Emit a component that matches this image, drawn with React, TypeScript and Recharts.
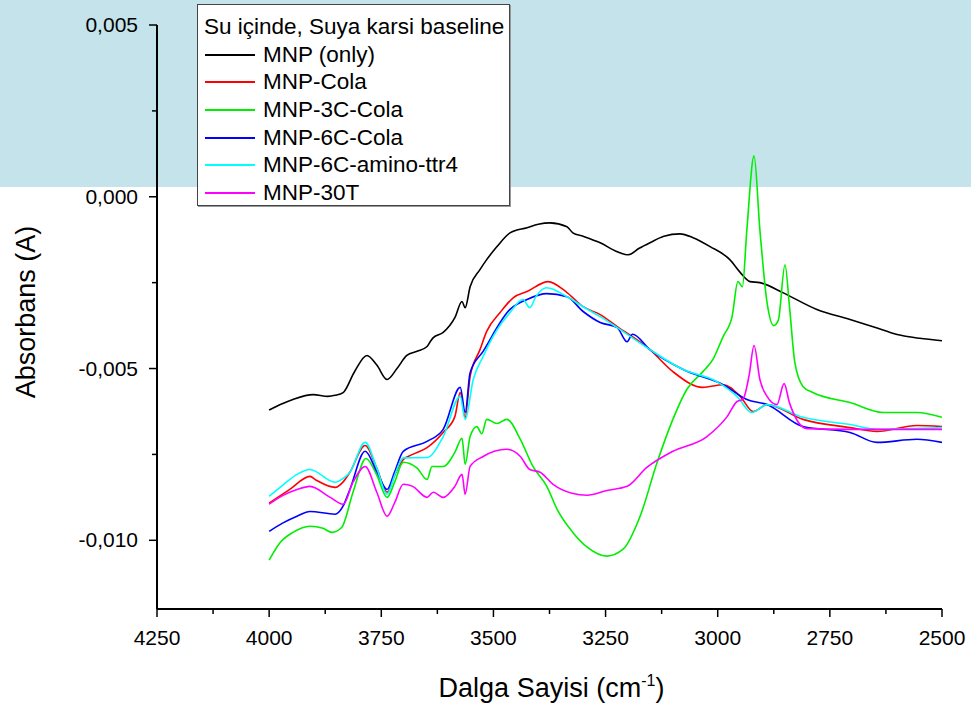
import { Label, Line, LineChart, XAxis, YAxis } from "recharts";

// ---------------------------------------------------------------------------
// Data: [wavenumber (cm-1), absorbance (A)]
// ---------------------------------------------------------------------------

const mnpOnly: [number, number][] = [
  [4000, -0.00621], [3975, -0.00605], [3947, -0.0059], [3902, -0.00576], [3869, -0.00581],
  [3853, -0.00578], [3835, -0.0057], [3810, -0.0051], [3782, -0.00462], [3760, -0.0049],
  [3737, -0.00532], [3715, -0.005], [3693, -0.00462], [3670, -0.0045], [3648, -0.00436],
  [3640, -0.0042], [3634, -0.0041], [3612, -0.00395], [3586, -0.00352], [3570, -0.00305],
  [3563, -0.00323], [3552, -0.00262], [3530, -0.00212], [3515, -0.00183], [3492, -0.00145],
  [3463, -0.00105], [3425, -0.0009], [3400, -0.0008], [3374, -0.00076], [3336, -0.00087],
  [3323, -0.00105], [3300, -0.00115], [3262, -0.00134], [3224, -0.0016], [3200, -0.00169],
  [3175, -0.0015], [3151, -0.00134], [3120, -0.00115], [3084, -0.00108], [3055, -0.00119],
  [3017, -0.00145], [2973, -0.00183], [2950, -0.0022], [2928, -0.00247], [2906, -0.0025],
  [2855, -0.00279], [2779, -0.00328], [2705, -0.00357], [2650, -0.0038], [2600, -0.00401],
  [2550, -0.00412], [2500, -0.00419],
];

const mnpCola: [number, number][] = [
  [4000, -0.00892], [3975, -0.0087], [3954, -0.00852], [3909, -0.00814], [3895, -0.00825],
  [3853, -0.00846], [3835, -0.0083], [3820, -0.00802], [3786, -0.00724], [3760, -0.0079],
  [3737, -0.0086], [3720, -0.0081], [3701, -0.00765], [3680, -0.0075], [3648, -0.0073],
  [3612, -0.00686], [3586, -0.0064], [3574, -0.0057], [3563, -0.00642], [3552, -0.00523],
  [3530, -0.00445], [3515, -0.00392], [3485, -0.00337], [3456, -0.00294], [3425, -0.00276],
  [3378, -0.00247], [3336, -0.00279], [3300, -0.0032], [3262, -0.00343], [3224, -0.00378],
  [3151, -0.00445], [3100, -0.00509], [3033, -0.00555], [2988, -0.00547], [2950, -0.00581],
  [2921, -0.00625], [2890, -0.00605], [2810, -0.00648], [2705, -0.00672], [2645, -0.00683],
  [2556, -0.00666], [2500, -0.00669],
];

const mnp3cCola: [number, number][] = [
  [4000, -0.01058], [3975, -0.01006], [3947, -0.00977], [3909, -0.00959], [3880, -0.00965],
  [3860, -0.00977], [3838, -0.00962], [3813, -0.0086], [3784, -0.00762], [3760, -0.0081],
  [3737, -0.00875], [3720, -0.0083], [3701, -0.00773], [3670, -0.0079], [3648, -0.00823],
  [3637, -0.00785], [3612, -0.00785], [3586, -0.00744], [3570, -0.00703], [3563, -0.00779],
  [3552, -0.00698], [3537, -0.00669], [3526, -0.0069], [3515, -0.00648], [3492, -0.0066],
  [3470, -0.00648], [3440, -0.00706], [3412, -0.00785], [3381, -0.00843], [3358, -0.0091],
  [3323, -0.00977], [3291, -0.0102], [3247, -0.01046], [3211, -0.01026], [3173, -0.0093],
  [3135, -0.00773], [3100, -0.00648], [3069, -0.00561], [3033, -0.00509], [3011, -0.00474],
  [2988, -0.00407], [2968, -0.00349], [2955, -0.00247], [2945, -0.00262], [2935, -0.00096],
  [2919, 0.00119], [2906, -0.00096], [2890, -0.00308], [2875, -0.00375], [2865, -0.0036],
  [2850, -0.00198], [2840, -0.0032], [2828, -0.00483], [2810, -0.00552], [2788, -0.0057],
  [2705, -0.00599], [2632, -0.00628], [2556, -0.00628], [2500, -0.00642],
];

const mnp6cCola: [number, number][] = [
  [4000, -0.00974], [3970, -0.0095], [3938, -0.0093], [3909, -0.00916], [3853, -0.00924],
  [3835, -0.0090], [3820, -0.00852], [3786, -0.00741], [3760, -0.008], [3737, -0.00852],
  [3720, -0.0080], [3701, -0.00741], [3648, -0.00712], [3612, -0.00677], [3574, -0.00555],
  [3563, -0.00628], [3552, -0.00512], [3523, -0.0045], [3463, -0.00328], [3425, -0.00299],
  [3381, -0.00282], [3336, -0.00291], [3300, -0.00334], [3262, -0.00366], [3224, -0.00381],
  [3202, -0.00422], [3190, -0.004], [3151, -0.00445], [3077, -0.00503], [2988, -0.00547],
  [2935, -0.0059], [2890, -0.00605], [2810, -0.00669], [2705, -0.00686], [2645, -0.00715],
  [2556, -0.00706], [2500, -0.00715],
];

const mnp6cAmino: [number, number][] = [
  [4000, -0.00872], [3970, -0.0084], [3938, -0.00808], [3909, -0.00794], [3853, -0.00831],
  [3835, -0.0082], [3820, -0.00802], [3786, -0.00715], [3760, -0.0079], [3737, -0.00866],
  [3720, -0.0081], [3701, -0.0076], [3648, -0.00759], [3612, -0.00698], [3574, -0.00581],
  [3563, -0.00648], [3545, -0.00532], [3523, -0.00465], [3501, -0.00407], [3463, -0.00337],
  [3434, -0.00299], [3419, -0.00323], [3405, -0.0029], [3381, -0.00265], [3336, -0.00291],
  [3300, -0.0032], [3262, -0.00349], [3224, -0.00381], [3151, -0.00445], [3077, -0.00503],
  [3002, -0.00538], [2957, -0.00581], [2924, -0.00628], [2890, -0.00605], [2810, -0.00642],
  [2705, -0.00663], [2645, -0.00677], [2500, -0.00672],
];

const mnp30t: [number, number][] = [
  [4000, -0.00895], [3970, -0.0087], [3938, -0.00852], [3909, -0.00843], [3864, -0.00875],
  [3835, -0.00895], [3813, -0.00831], [3786, -0.00785], [3760, -0.0086], [3737, -0.0093],
  [3720, -0.0089], [3701, -0.00837], [3680, -0.00843], [3648, -0.00875], [3634, -0.0086],
  [3612, -0.00875], [3586, -0.00843], [3570, -0.00808], [3563, -0.00866], [3552, -0.00785],
  [3523, -0.00756], [3470, -0.00735], [3440, -0.00756], [3419, -0.00794], [3396, -0.00802],
  [3367, -0.00837], [3325, -0.00863], [3291, -0.00869], [3247, -0.00855], [3202, -0.00843],
  [3158, -0.00788], [3100, -0.00741], [3024, -0.00698], [2979, -0.0064], [2957, -0.00596],
  [2944, -0.0059], [2930, -0.0052], [2919, -0.00433], [2906, -0.00532], [2890, -0.00581],
  [2868, -0.00605], [2852, -0.00544], [2840, -0.006], [2801, -0.00675], [2705, -0.00677],
  [2500, -0.00677],
];

const legendTitle = "Su içinde, Suya karsi baseline";

const seriesList = [
  { name: "MNP (only)", color: "#000000", points: mnpOnly },
  { name: "MNP-Cola", color: "#ff0000", points: mnpCola },
  { name: "MNP-3C-Cola", color: "#00ee00", points: mnp3cCola },
  { name: "MNP-6C-Cola", color: "#0000ff", points: mnp6cCola },
  { name: "MNP-6C-amino-ttr4", color: "#00ffff", points: mnp6cAmino },
  { name: "MNP-30T", color: "#ff00ff", points: mnp30t },
];

// major every 250, minor in between
const xTicks = [4250, 4125, 4000, 3875, 3750, 3625, 3500, 3375, 3250, 3125, 3000, 2875, 2750, 2625, 2500];
const yTicks = [0.005, 0.0025, 0, -0.0025, -0.005, -0.0075, -0.01];

// ---------------------------------------------------------------------------
// Styling
// ---------------------------------------------------------------------------

const FONT = '"Liberation Sans", Arial, sans-serif';
const W = 971;
const H = 707;

const fmtY = (v: number) => (Math.abs(v) < 1e-9 ? "0,000" : v.toFixed(3).replace(".", ","));

function XTick({ x, y, payload }: any) {
  const major = payload.value % 250 === 0;
  return (
    <g>
      <line x1={x} x2={x} y1={y} y2={y + (major ? 8 : 5)} stroke="#000" strokeWidth={1.5} />
      {major && (
        <text x={x} y={y + 36} textAnchor="middle" fontSize={21} fontFamily={FONT} fill="#000">
          {payload.value}
        </text>
      )}
    </g>
  );
}

function YTick({ x, y, payload }: any) {
  const r = payload.value / 0.005;
  const major = Math.abs(r - Math.round(r)) < 1e-6;
  return (
    <g>
      <line x1={x} x2={x - (major ? 8 : 5)} y1={y} y2={y} stroke="#000" strokeWidth={1.5} />
      {major && (
        <text x={x - 19} y={y + 7} textAnchor="end" fontSize={21} fontFamily={FONT} fill="#000">
          {fmtY(payload.value)}
        </text>
      )}
    </g>
  );
}

export default function App() {
  return (
    <div style={{ position: "absolute", left: 0, top: 0, width: W, height: H, background: "#fff", overflow: "hidden" }}>
      <div style={{ position: "absolute", left: 0, top: 0, width: W, height: 187, background: "#c4e3ea" }} />

      <div style={{ position: "absolute", left: 0, top: 0 }}>
        <LineChart width={W} height={H} margin={{ top: 25, right: 29, bottom: 0, left: 0 }}>
          <XAxis
            type="number"
            dataKey="x"
            domain={[2500, 4250]}
            reversed
            ticks={xTicks}
            interval={0}
            allowDataOverflow
            height={98}
            tickSize={0}
            tickMargin={0}
            tick={<XTick />}
            axisLine={{ stroke: "#000", strokeWidth: 2 }}
          >
            <Label
              content={({ viewBox }: any) => (
                <text
                  x={viewBox.x + viewBox.width / 2 + 2}
                  y={viewBox.y + 88}
                  textAnchor="middle"
                  fontSize={27}
                  fontFamily={FONT}
                  fill="#000"
                >
                  Dalga Sayisi (cm
                  <tspan fontSize={16} dy={-11}>-1</tspan>
                  <tspan fontSize={27} dy={11}>)</tspan>
                </text>
              )}
            />
          </XAxis>
          <YAxis
            type="number"
            dataKey="y"
            domain={[-0.012, 0.005]}
            ticks={yTicks}
            interval={0}
            allowDataOverflow
            width={157}
            tickSize={0}
            tickMargin={0}
            tick={<YTick />}
            axisLine={{ stroke: "#000", strokeWidth: 2 }}
          >
            <Label
              content={({ viewBox }: any) => {
                const cx = viewBox.x + 26;
                const cy = viewBox.y + viewBox.height / 2 - 5;
                return (
                  <text
                    x={cx}
                    y={cy}
                    transform={`rotate(-90 ${cx} ${cy})`}
                    textAnchor="middle"
                    dominantBaseline="central"
                    fontSize={27}
                    fontFamily={FONT}
                    fill="#000"
                  >
                    Absorbans (A)
                  </text>
                );
              }}
            />
          </YAxis>
          {seriesList.map((s) => (
            <Line
              key={s.name}
              data={s.points.map(([x, y]) => ({ x, y }))}
              dataKey="y"
              type="monotoneX"
              stroke={s.color}
              strokeWidth={1.6}
              dot={false}
              isAnimationActive={false}
            />
          ))}
        </LineChart>
      </div>

      <div
        style={{
          position: "absolute",
          left: 197,
          top: 4,
          width: 313,
          height: 202,
          background: "#fff",
          border: "1px solid #444",
          boxShadow: "1px 1px 0 #999",
          fontFamily: FONT,
          fontSize: 22.5,
          color: "#000",
          paddingTop: 8,
          boxSizing: "border-box",
        }}
      >
        <div style={{ height: 28, lineHeight: "28px", paddingLeft: 6, whiteSpace: "nowrap" }}>{legendTitle}</div>
        {seriesList.map((s) => (
          <div key={s.name} style={{ height: 27.6, display: "flex", alignItems: "center", paddingLeft: 7, whiteSpace: "nowrap" }}>
            <span style={{ display: "inline-block", width: 50, height: 2, background: s.color, marginRight: 8 }} />
            <span>{s.name}</span>
          </div>
        ))}
      </div>
    </div>
  );
}
